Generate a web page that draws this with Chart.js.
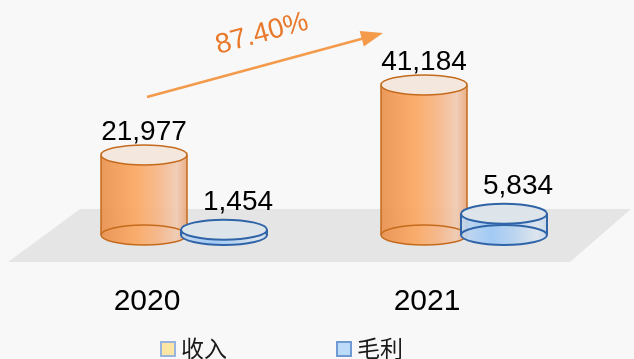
<!DOCTYPE html>
<html>
<head>
<meta charset="utf-8">
<script src="https://cdn.jsdelivr.net/npm/chart.js@4.4.1/dist/chart.umd.min.js"></script>
<style>
  html, body { margin: 0; padding: 0; background: #f8f8f8; }
  #wrap { width: 634px; height: 359px; }
</style>
</head>
<body>
<div id="wrap"><canvas id="chart"></canvas></div>
<script>
const years = ["2020", "2021"];
const revenue = [21977, 41184];
const grossProfit = [1454, 5834];
const seriesNames = ["收入", "毛利"];
const yMax = 59000;

// growth of revenue, shown on the arrow
const growth = ((revenue[1] / revenue[0] - 1) * 100).toFixed(2) + "%";

const orange = {
  body: [[0, "#e8904e"], [0.18, "#f29b55"], [0.42, "#fba862"], [0.68, "#f6b689"], [0.88, "#efcab2"], [1, "#e9a97c"]],
  top: "#f4e7de",
  line: "#c46a1c",
  lineWidth: 1.5,
  legendFill: "#fde5a6",
  legendLine: "#97b5df",
  labelDx: 0,
  labelGap: 5
};
const blue = {
  body: [[0, "#c4d8ee"], [0.35, "#9cc8f6"], [0.62, "#b7d3f0"], [0.88, "#dde5ee"], [1, "#c7d7ea"]],
  top: "#dde4ea",
  line: "#2f64a8",
  lineWidth: 2,
  legendFill: "#bcdbf8",
  legendLine: "#6f9bd2",
  labelDx: 14,
  labelGap: 10
};

function drawCylinder(ctx, x, top, base, rx, ry, c) {
  const g = ctx.createLinearGradient(x - rx, 0, x + rx, 0);
  c.body.forEach(s => g.addColorStop(s[0], s[1]));
  ctx.save();
  ctx.beginPath();
  ctx.moveTo(x - rx, top);
  ctx.lineTo(x - rx, base);
  ctx.ellipse(x, base, rx, ry, 0, Math.PI, 0, true);
  ctx.lineTo(x + rx, top);
  ctx.ellipse(x, top, rx, ry, 0, 0, Math.PI, false);
  ctx.closePath();
  ctx.fillStyle = g;
  ctx.globalAlpha = 0.92;
  ctx.fill();
  ctx.globalAlpha = 1;

  ctx.strokeStyle = c.line;
  ctx.lineWidth = c.lineWidth;
  ctx.beginPath();
  ctx.ellipse(x, base, rx, ry, 0, 0, Math.PI * 2);
  ctx.stroke();
  ctx.beginPath();
  ctx.moveTo(x - rx, top);
  ctx.lineTo(x - rx, base);
  ctx.moveTo(x + rx, top);
  ctx.lineTo(x + rx, base);
  ctx.stroke();

  ctx.beginPath();
  ctx.ellipse(x, top, rx, ry, 0, 0, Math.PI * 2);
  ctx.fillStyle = c.top;
  ctx.fill();
  ctx.stroke();
  ctx.restore();
}

const cylinders = {
  id: "cylinders",
  beforeDatasetsDraw(chart) {
    const ctx = chart.ctx;
    const b = chart.chartArea.bottom;
    // grey floor under the bars
    ctx.save();
    ctx.fillStyle = "#e5e5e5";
    ctx.beginPath();
    ctx.moveTo(80, b - 26);
    ctx.lineTo(631, b - 26);
    ctx.lineTo(570, b + 27);
    ctx.lineTo(8, b + 27);
    ctx.closePath();
    ctx.fill();
    ctx.restore();
  },
  afterDatasetsDraw(chart) {
    const ctx = chart.ctx;
    const ry = 10;
    chart.data.datasets.forEach((ds, di) => {
      const meta = chart.getDatasetMeta(di);
      meta.data.forEach((bar, i) => {
        const rx = bar.width / 2;
        drawCylinder(ctx, bar.x, bar.y, bar.base, rx, ry, ds.cyl);
        ctx.save();
        ctx.fillStyle = "#000";
        ctx.font = "28px 'Liberation Sans', Arial, sans-serif";
        ctx.textAlign = "center";
        ctx.textBaseline = "alphabetic";
        ctx.fillText(ds.data[i].toLocaleString("en-US"), bar.x + ds.cyl.labelDx, bar.y - ry - ds.cyl.labelGap);
        ctx.restore();
      });
    });

    // growth arrow
    ctx.save();
    const x0 = 147, y0 = 97, x1 = 383, y1 = 33;
    const ang = Math.atan2(y1 - y0, x1 - x0);
    ctx.strokeStyle = "#f39a4b";
    ctx.fillStyle = "#f39a4b";
    ctx.lineWidth = 2.6;
    ctx.beginPath();
    ctx.moveTo(x0, y0);
    ctx.lineTo(x1 - 14 * Math.cos(ang), y1 - 14 * Math.sin(ang));
    ctx.stroke();
    ctx.translate(x1, y1);
    ctx.rotate(ang);
    ctx.beginPath();
    ctx.moveTo(0, 0);
    ctx.lineTo(-22, -8);
    ctx.lineTo(-22, 8);
    ctx.closePath();
    ctx.fill();
    ctx.restore();

    ctx.save();
    ctx.translate(262, 34);
    ctx.rotate(ang);
    ctx.fillStyle = "#e8782a";
    ctx.font = "28px 'Liberation Sans', Arial, sans-serif";
    ctx.textAlign = "center";
    ctx.textBaseline = "middle";
    ctx.fillText(growth, 0, 0);
    ctx.restore();
  },
  afterDraw(chart) {
    // legend
    const ctx = chart.ctx;
    const xs = [161, 337];
    const yc = 348;
    chart.data.datasets.forEach((ds, i) => {
      ctx.save();
      ctx.fillStyle = ds.cyl.legendFill;
      ctx.strokeStyle = ds.cyl.legendLine;
      ctx.lineWidth = 2;
      ctx.fillRect(xs[i], yc - 6, 14, 14);
      ctx.strokeRect(xs[i], yc - 6, 14, 14);
      ctx.fillStyle = "#1a1a1a";
      ctx.font = "23px 'Noto Sans CJK SC', sans-serif";
      ctx.textAlign = "left";
      ctx.textBaseline = "middle";
      ctx.fillText(ds.label, xs[i] + 20, yc);
      ctx.restore();
    });
  }
};

new Chart(document.getElementById("chart"), {
  type: "bar",
  data: {
    labels: years,
    datasets: [
      { label: seriesNames[0], data: revenue, cyl: orange },
      { label: seriesNames[1], data: grossProfit, cyl: blue }
    ].map(d => Object.assign(d, {
      backgroundColor: "rgba(0,0,0,0)",
      borderWidth: 0,
      barPercentage: 1.075,
      categoryPercentage: 0.5714
    }))
  },
  options: {
    responsive: true,
    maintainAspectRatio: false,
    animation: false,
    devicePixelRatio: 1,
    layout: { padding: { left: 44, right: 30, top: 20, bottom: 0 } },
    plugins: {
      legend: { display: false },
      tooltip: { enabled: false }
    },
    scales: {
      x: {
        grid: { display: false, drawTicks: false },
        border: { display: false },
        ticks: {
          color: "#000",
          font: { size: 30, family: "'Liberation Sans', Arial, sans-serif" },
          padding: 49,
          labelOffset: -37
        },
        afterFit(scale) { scale.height = 124; }
      },
      y: {
        display: false,
        min: 0,
        max: yMax
      }
    }
  },
  plugins: [cylinders]
});
</script>
</body>
</html>
